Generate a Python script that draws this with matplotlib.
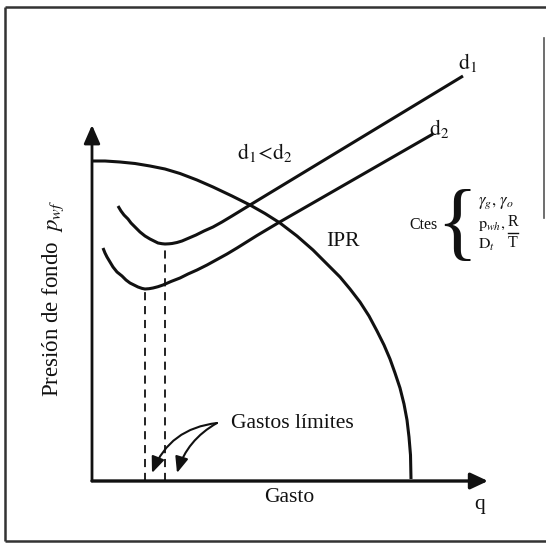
import matplotlib
matplotlib.use("Agg")
import matplotlib.pyplot as plt

plt.rcParams['font.family'] = ['Liberation Serif', 'DejaVu Serif']
plt.rcParams['mathtext.fontset'] = 'stix'

# ---- data (schematic units, origin at the axes corner) ----
ipr_q = [0, 13, 28, 43, 58, 73, 88, 105, 121, 140, 158, 173, 188, 205, 221, 235, 248,
         258, 268, 277, 285, 292, 298, 303, 308, 312, 315, 317, 318.5, 319]
ipr_p = [320, 320, 319, 317.5, 315, 312, 307.5, 301, 294, 285, 276, 267.5, 258, 245, 231,
         217, 204, 192, 179, 165, 150, 136, 122, 108, 93, 77, 61, 44, 26, 2]

d1_q = [26, 29, 32, 36, 39, 44, 48, 53, 58, 62, 66, 70, 73, 77, 80, 85, 90, 97, 104, 112, 121, 130, 140, 149, 158, 371]
d1_p = [275, 270, 266, 262, 258, 253, 249, 245, 242, 240, 238, 237.3, 237, 237.2, 237.5, 238.5, 240, 243, 246, 250, 254, 259, 265, 270.5, 276, 405]

d2_q = [11, 13, 15, 18, 21, 25, 30, 34, 38, 42, 46, 50, 53, 57, 61, 66, 71, 79, 88, 96, 105, 115, 125, 135, 145, 165, 186, 341]
d2_p = [233, 228, 224, 219, 214, 209, 205, 201, 198, 196, 194, 192.6, 192, 192.3, 193, 194.3, 196, 199.5, 203, 207, 211, 216, 221.5, 227, 233, 245.5, 258, 347]

q_lim = [53, 73]       # gastos limites (minimos de d2 y d1)
p_lim = [192, 237]

q_max = 396            # extent of q axis
p_max = 356            # extent of p axis

fig = plt.figure(figsize=(5.46, 5.44), dpi=100)
ax = fig.add_axes([0, 0, 1, 1])
ax.set_xlim(-92, 454)
ax.set_ylim(-63, 481)
ax.axis('off')

ink = '#111111'
lw = 2.2

# outer frame of the scanned figure
fr = dict(color='#333333', lw=1.8, transform=ax.transAxes, solid_capstyle='butt')
ax.plot([0.009, 0.009], [0.0055, 0.987], **fr)
ax.plot([0.009, 1.0], [0.987, 0.987], **fr)
ax.plot([0.009, 1.0], [0.0055, 0.0055], **fr)
ax.plot([0.9963, 0.9963], [0.599, 0.930], color='#555555', lw=1.2, transform=ax.transAxes)

# axes with arrows
ax.annotate('', xy=(q_max, 0), xytext=(0, 0),
            arrowprops=dict(arrowstyle='-|>,head_length=0.75,head_width=0.35', lw=2.4,
                            color=ink, shrinkA=0, shrinkB=0, mutation_scale=14))
ax.annotate('', xy=(0, p_max), xytext=(0, 0),
            arrowprops=dict(arrowstyle='-|>,head_length=0.8,head_width=0.35', lw=2.0,
                            color=ink, shrinkA=0, shrinkB=0, mutation_scale=14))

# curves
ax.plot(ipr_q, ipr_p, color=ink, lw=lw, solid_capstyle='butt', solid_joinstyle='round')
ax.plot(d1_q, d1_p, color=ink, lw=lw, solid_capstyle='butt', solid_joinstyle='round')
ax.plot(d2_q, d2_p, color=ink, lw=lw, solid_capstyle='butt', solid_joinstyle='round')

# dashed limit lines
for q, p in zip(q_lim, p_lim):
    ax.plot([q, q], [0, p], color=ink, lw=1.3, ls=(0, (4.5, 3.2)))

# labels
fs = 15.5
ax.text(376, 419, r'$\mathrm{d}_1$', fontsize=fs, ha='center', va='center', color=ink)
ax.text(347, 352, r'$\mathrm{d}_2$', fontsize=fs, ha='center', va='center', color=ink)
ax.text(173, 329, r'$\mathrm{d}_1\!<\!\mathrm{d}_2$', fontsize=fs, ha='center', va='center', color=ink)
ax.text(251, 239, 'IPR', fontsize=fs, ha='center', va='center', color=ink)
ax.text(200, 58, 'Gastos límites', fontsize=fs, ha='center', va='center', color=ink)
ax.text(197, -17, 'Gasto', fontsize=fs, ha='center', va='center', color=ink)
ax.text(388, -24, 'q', fontsize=fs, ha='center', va='center', color=ink)
ax.text(-39, 183, r'Presión de fondo  $p_{wf}$', fontsize=16.5, rotation=90,
        ha='center', va='center', color=ink)

# constants block
ax.text(332, 256, 'Ctes', fontsize=11.5, ha='center', va='center', color=ink)
ax.text(365, 253, '{', fontsize=62, ha='center', va='center', color=ink,
        family='Liberation Serif')
ax.text(386, 278, r'$\gamma_g,\,\gamma_o$', fontsize=12, ha='left', va='center', color=ink)
ax.text(386, 256, r'$\mathrm{p}_{wh},$', fontsize=11.5, ha='left', va='center', color=ink)
ax.text(386, 236, r'$\mathrm{D}_t$', fontsize=11.5, ha='left', va='center', color=ink)
ax.text(421, 259, 'R', fontsize=11.5, ha='center', va='center', color=ink)
ax.text(421, 238, 'T', fontsize=11.5, ha='center', va='center', color=ink)
ax.plot([416, 426], [248.5, 248.5], color=ink, lw=1.0)

# curved arrows to the limit rates
ap = dict(arrowstyle='-|>,head_length=0.8,head_width=0.33', lw=1.5, color=ink,
          shrinkA=0, shrinkB=0, mutation_scale=12)
ax.annotate('', xy=(q_lim[0] + 7, 8), xytext=(125, 58),
            arrowprops=dict(connectionstyle='arc3,rad=0.3', **ap))
ax.annotate('', xy=(q_lim[1] + 12, 8), xytext=(125, 58),
            arrowprops=dict(connectionstyle='arc3,rad=0.2', **ap))

fig.savefig('out.png', dpi=100)
